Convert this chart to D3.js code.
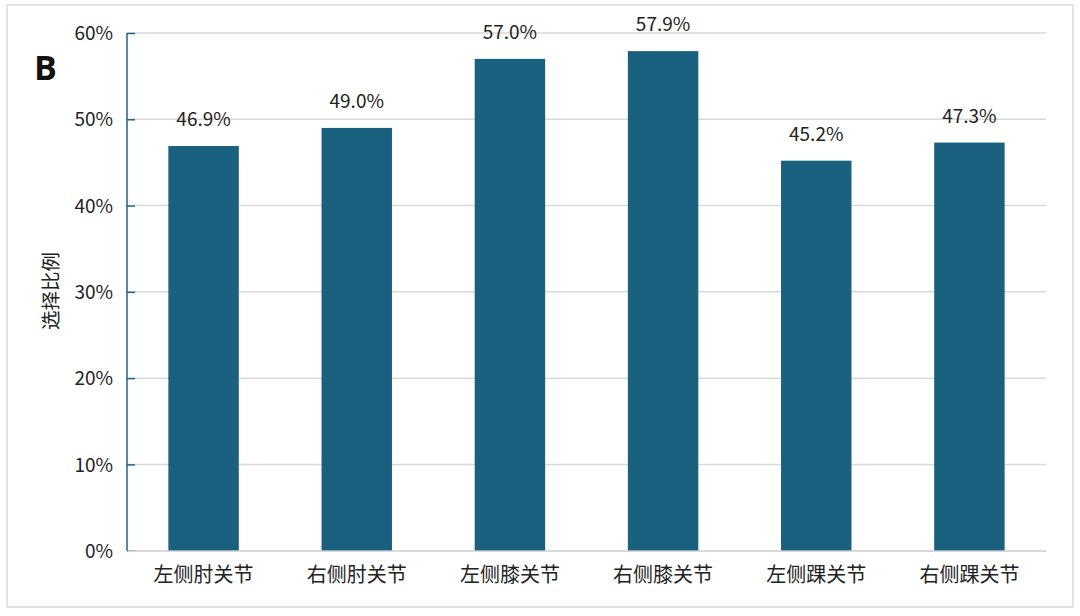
<!DOCTYPE html>
<html><head><meta charset="utf-8">
<script src="https://cdn.jsdelivr.net/npm/d3@7"></script>
<style>body{margin:0;background:#fff;}</style>
</head><body>
<svg id="chart" width="1080" height="616"></svg>
<script>
const categories = ["左侧肘关节","右侧肘关节","左侧膝关节","右侧膝关节","左侧踝关节","右侧踝关节"];
const values = [46.9, 49.0, 57.0, 57.9, 45.2, 47.3];
const yTicks = [0, 10, 20, 30, 40, 50, 60];
const yTitle = "选择比例";
const panelLabel = "B";

const font = "'Noto Sans CJK SC','Noto Sans',sans-serif";
const svg = d3.select("#chart");
svg.append("rect").attr("x",7).attr("y",5).attr("width",1066).attr("height",602)
  .attr("fill","#fff").attr("stroke","#d9d9d9").attr("stroke-width",1.5);

const m = {left:127, right:1046, top:33, bottom:550.7};
const x = d3.scaleBand().domain(categories).range([m.left, m.right]).paddingInner(0.54).paddingOuter(0.27);
const y = d3.scaleLinear().domain([0,60]).range([m.bottom, m.top]);

// gridlines
svg.append("g").selectAll("line").data(yTicks).join("line")
  .attr("x1", m.left).attr("x2", m.right)
  .attr("y1", d=>y(d)).attr("y2", d=>y(d))
  .attr("stroke","#d9d9d9").attr("stroke-width",1.5);

// bars
svg.append("g").selectAll("rect").data(values).join("rect")
  .attr("x",(d,i)=>x(categories[i])).attr("width",x.bandwidth())
  .attr("y",d=>y(d)).attr("height",d=>y(0)-y(d))
  .attr("fill","#19617f");

// value labels
svg.append("g").selectAll("text").data(values).join("text")
  .attr("x",(d,i)=>x(categories[i])+x.bandwidth()/2)
  .attr("y",d=>y(d)-20)
  .attr("text-anchor","middle").attr("font-family",font).attr("font-size",19).attr("fill","#222")
  .text(d=>d.toFixed(1)+"%");

// y axis
const yAxis = d3.axisLeft(y).tickValues(yTicks).tickFormat(d=>d+"%").tickSize(-8).tickPadding(14);
const ga = svg.append("g").attr("transform",`translate(${m.left},0)`).call(yAxis);
ga.select(".domain").attr("stroke","#1f6585").attr("stroke-width",1.5).attr("d",`M0,${y(0)}V${y(60)}`);
ga.selectAll(".tick line").attr("stroke","#1f6585").attr("stroke-width",1.5);
ga.selectAll(".tick text").attr("font-family",font).attr("font-size",19).attr("fill","#222").attr("dy","0.35em");

// x axis
const xAxis = d3.axisBottom(x).tickSize(0).tickPadding(17);
const gx = svg.append("g").attr("transform",`translate(0,${y(0)})`).call(xAxis);
gx.select(".domain").attr("stroke","#d9d9d9").attr("stroke-width",1.5);
gx.selectAll(".tick text").attr("font-family",font).attr("font-size",20).attr("fill","#222");

// y title
svg.append("text").attr("transform","translate(49,291) rotate(-90)")
  .attr("text-anchor","middle").attr("dominant-baseline","central")
  .attr("font-family",font).attr("font-size",19.5).attr("fill","#222").text(yTitle);

// panel label
svg.append("text").attr("x",34).attr("y",80).attr("font-family","'Open Sans','Noto Sans',sans-serif")
  .attr("font-weight","bold").attr("font-size",34).attr("fill","#111").text(panelLabel);
</script>
</body></html>
